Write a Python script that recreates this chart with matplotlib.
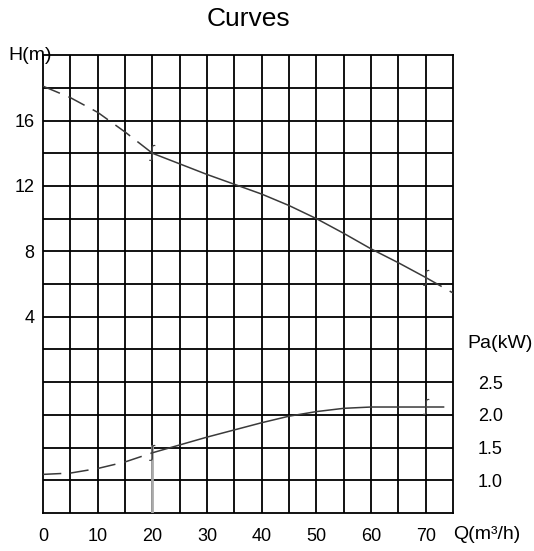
import matplotlib
matplotlib.use("Agg")
from matplotlib import pyplot as plt

plt.rcParams['font.family'] = ['Liberation Sans', 'DejaVu Sans']

# flow (m3/h)
q = [0, 5, 10, 15, 20, 25, 30, 35, 40, 45, 50, 55, 60, 65, 70, 75]
# head (m)
head = [18.1, 17.4, 16.5, 15.3, 14.0, 13.35, 12.7, 12.1, 11.5, 10.8, 10.0, 9.1, 8.15, 7.3, 6.4, 5.45]
# shaft power (kW)
power = [1.09, 1.11, 1.18, 1.28, 1.42, 1.54, 1.66, 1.77, 1.88, 1.98, 2.05, 2.10, 2.12, 2.12, 2.12, 2.12]

q_ticks = [0, 10, 20, 30, 40, 50, 60, 70]
h_ticks = [4, 8, 12, 16]
p_ticks = [1.0, 1.5, 2.0, 2.5]

fig = plt.figure(figsize=(5.34, 5.51), dpi=100)
ax = fig.add_axes([0.0805, 0.069, 0.768, 0.831])
ax2 = ax.twinx()

ax.set_xlim(0, 75)
ax.set_ylim(-8, 20)
ax2.set_ylim(0.5, 7.5)

# grid every 5 m3/h and every 2 m
for x in range(5, 75, 5):
    ax.axvline(x, color='black', lw=1.3, zorder=1)
for y in range(-6, 20, 2):
    ax.axhline(y, color='black', lw=1.3, zorder=1)
for s in ax.spines.values():
    s.set_linewidth(1.3)
for s in ax2.spines.values():
    s.set_visible(False)

lc = '#3a3a3a'
dash = (0, (12, 6))
# head curve: dashed outside 20..70, solid inside
ax.plot(q[:5], head[:5], color=lc, lw=1.1, linestyle=dash, zorder=3)
ax.plot(q[4:15], head[4:15], color=lc, lw=1.1, zorder=3)
ax.plot(q[14:], head[14:], color=lc, lw=1.1, linestyle=dash, zorder=3)
# power curve
ax2.plot(q[:5], power[:5], color=lc, lw=1.1, linestyle=dash, zorder=3)
ax2.plot(q[4:15], power[4:15], color=lc, lw=1.1, zorder=3)
ax2.plot(q[14:], power[14:], color=lc, lw=1.1, linestyle=dash, zorder=3)

# small limit marks at 20 and 70
for i in (4, 14):
    ax.text(q[i], head[i], '∫', ha='center', va='center', fontsize=12, color='#444444', zorder=4)
    ax2.text(q[i], power[i], '∫', ha='center', va='center', fontsize=12, color='#444444', zorder=4)
ax2.vlines(20, 0.5, power[4] + 0.12, color='#aaaaaa', lw=2, zorder=2)

ax.set_xticks(q_ticks)
ax.set_yticks(h_ticks)
ax2.set_yticks(p_ticks)
ax2.set_yticklabels(['%.1f' % p for p in p_ticks])
ax.tick_params(axis='x', length=0, pad=11, labelsize=13)
ax.tick_params(axis='y', length=0, pad=6, labelsize=13)
ax2.tick_params(axis='y', length=0, pad=18, labelsize=13)

ax.text(-0.085, 1.0, 'H(m)', transform=ax.transAxes, ha='left', va='center', fontsize=14)
ax2.text(1.034, 3.09, 'Pa(kW)', transform=ax2.get_yaxis_transform(), ha='left', va='center', fontsize=14)
ax.text(1.0, -0.048, 'Q(m³/h)', transform=ax.transAxes, ha='left', va='center', fontsize=14)
fig.text(0.465, 0.965, 'Curves', ha='center', va='center', fontsize=19)

fig.savefig('out.png', dpi=100)
